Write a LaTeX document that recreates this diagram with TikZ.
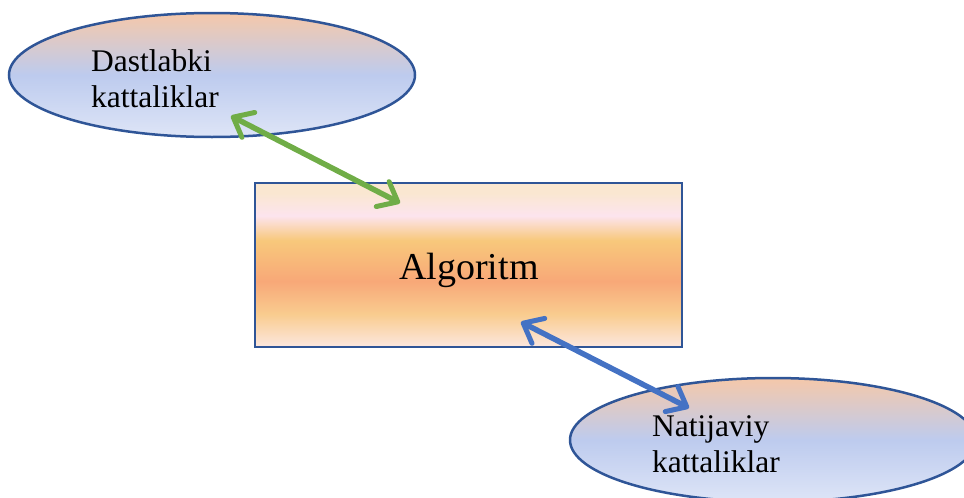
\documentclass[tikz,border=0pt]{standalone}
\usepackage{fontspec}
\setmainfont{Liberation Serif}
\usetikzlibrary{arrows.meta,shapes.geometric,calc}

\definecolor{edgeblue}{HTML}{2F5597}
\definecolor{linkgreen}{HTML}{70AD47}
\definecolor{linkblue}{HTML}{4472C4}
% oval fill: peach at top, blue in the middle, pale blue at the bottom
\definecolor{ovA}{HTML}{F5C8AA}
\definecolor{ovB}{HTML}{BDCBEE}
\definecolor{ovC}{HTML}{DEE5F7}
% box fill bands, top to bottom
\definecolor{bxA}{HTML}{FAE7D1}
\definecolor{bxB}{HTML}{FCE4EE}
\definecolor{bxC}{HTML}{F8C87B}
\definecolor{bxD}{HTML}{F8A878}
\definecolor{bxE}{HTML}{F9CC8F}
\definecolor{bxF}{HTML}{FCE7DF}

\pgfdeclareverticalshading{ovalshade}{100bp}{%
  color(0bp)=(ovC); color(25bp)=(ovC); color(50bp)=(ovB);
  color(75bp)=(ovA); color(100bp)=(ovA)}
\pgfdeclareverticalshading{boxshade}{100bp}{%
  color(0bp)=(bxF); color(25bp)=(bxF); color(35bp)=(bxE);
  color(45bp)=(bxD); color(57.5bp)=(bxC); color(65bp)=(bxB);
  color(72bp)=(bxA); color(100bp)=(bxA)}

\tikzset{
  oval/.style={ellipse, draw=edgeblue, line width=2.5pt, shade, shading=ovalshade,
    minimum width=406pt, minimum height=124pt, inner sep=0pt},
  algobox/.style={rectangle, draw=edgeblue, line width=2.5pt, shade, shading=boxshade,
    minimum width=427pt, minimum height=164pt, inner sep=0pt},
  ovaltext/.style={anchor=base west, align=left, inner sep=0pt,
    font=\fontsize{31.5}{35.5}\selectfont},
  boxtext/.style={anchor=base, inner sep=0pt, font=\fontsize{38}{44}\selectfont},
  barb/.tip={Straight Barb[length=17pt, width=28pt, line width=5pt, round]},
  link/.style={line width=5.5pt, line cap=round, barb-barb},
}

\begin{document}
\begin{tikzpicture}[x=1pt, y=-1pt]
\useasboundingbox (0,0) rectangle (964,498);
\clip (0,0) rectangle (964,498);

% shapes
\node[oval] (inp) at (212,75) {};
\node[algobox] (alg) at (468.5,265) {};
\node[oval] (out) at (773,440) {};

% labels (anchored on the baseline of the last line)
\node[ovaltext] (inptext) at (91,107) {Dastlabki\\kattaliklar};
\node[boxtext] (algtext) at (469,279) {Algoritm};
\node[ovaltext] (outtext) at (652,472) {Natijaviy\\kattaliklar};

% connector end points
\coordinate (g1) at ($(inp.center)+(19,41)$);
\coordinate (g2) at ($(alg.center)+(-68.5,-62)$);
\coordinate (b1) at ($(alg.center)+(52.5,57)$);
\coordinate (b2) at ($(out.center)+(-84,-32)$);

% two-way connectors
\draw[link, draw=linkgreen] (g1) -- (g2);
\draw[link, draw=linkblue] (b1) -- (b2);
\end{tikzpicture}
\end{document}
